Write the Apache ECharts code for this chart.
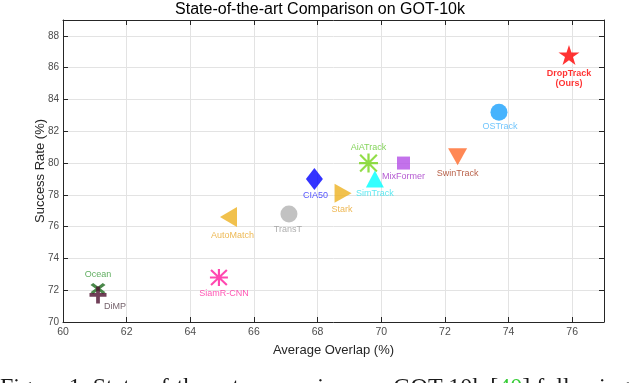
<!DOCTYPE html>
<html lang="en">
<head>
<meta charset="UTF-8">
<title>GOT-10k comparison</title>
<script src="https://cdn.jsdelivr.net/npm/echarts@6/dist/echarts.min.js"></script>
</head>
<body style="margin:0;background:#fff;">
<div id="main" style="width:640px;height:383px;"></div>
<script type="text/javascript">
// trackers and their (AO, SR) on GOT-10k
var trackers = ['DropTrack', 'OSTrack', 'SwinTrack', 'MixFormer', 'AiATrack', 'SimTrack', 'Stark',
    'CIA50', 'TransT', 'AutoMatch', 'SiamR-CNN', 'Ocean', 'DiMP'];
var avgOverlap = [75.9, 73.7, 72.4, 70.7, 69.6, 69.8, 68.8, 67.9, 67.1, 65.2, 64.9, 61.1, 61.1];
var successRate = [86.8, 83.2, 80.4, 80.0, 80.0, 79.0, 78.1, 79.0, 76.8, 76.6, 72.8, 72.1, 71.7];
var labelText = ['DropTrack\n(Ours)', 'OSTrack', 'SwinTrack', 'MixFormer', 'AiATrack', 'SimTrack', 'Stark',
    'CIA50', 'TransT', 'AutoMatch', 'SiamR-CNN', 'Ocean', 'DiMP'];
var xTicks = [60, 62, 64, 66, 68, 70, 72, 74, 76];
var yTicks = [70, 72, 74, 76, 78, 80, 82, 84, 86, 88];

// marker shapes
var STAR = 'path://M50,0 L61.8,35.5 L100,35.5 L69.1,57.5 L80.9,95 L50,72 L19.1,95 L30.9,57.5 L0,35.5 L38.2,35.5 Z';
var ASTER = 'path://M44,0 H56 V100 H44 Z M0,44 H100 V56 H0 Z M10,2 L98,90 L90,98 L2,10 Z M90,2 L98,10 L10,98 L2,90 Z';
var CROSS = 'path://M0,18 L18,0 L100,82 L82,100 Z M82,0 L100,18 L18,100 L0,82 Z';
var PLUS = 'path://M39,0 H61 V100 H39 Z M0,39 H100 V61 H0 Z';

var styles = [
    {symbol: STAR, size: [21, 20], rot: 0, color: '#ff0000', lc: '#ff0000', off: [0, 24], bold: true},
    {symbol: 'circle', size: 17, rot: 0, color: '#19a0fc', lc: '#4db6fb', off: [1, 14]},
    {symbol: 'triangle', size: [19, 17], rot: 180, color: '#ff6a2b', lc: '#a8391c', off: [0, 17]},
    {symbol: 'rect', size: 13, rot: 0, color: '#b44fe6', lc: '#a12fc6', off: [0, 13]},
    {symbol: ASTER, size: 19, rot: 0, color: '#77d51a', lc: '#66c933', off: [0, -16]},
    {symbol: 'triangle', size: [18, 17], rot: 0, color: '#00ffff', lc: '#38e4ee', off: [0, 15]},
    {symbol: 'triangle', size: [19, 17], rot: -90, color: '#edb120', lc: '#eaa62a', off: [-1, 16]},
    {symbol: 'diamond', size: [17, 22], rot: 0, color: '#0000ff', lc: '#2b2bff', off: [1, 17]},
    {symbol: 'circle', size: 17, rot: 0, color: '#b3b3b3', lc: '#9a9a9a', off: [-1, 16]},
    {symbol: 'triangle', size: [20, 17], rot: 90, color: '#edb120', lc: '#e9a82a', off: [4, 18]},
    {symbol: ASTER, size: [18, 17], rot: 0, color: '#ff1a9c', lc: '#ff2aa0', off: [5, 16]},
    {symbol: CROSS, size: [15, 11], rot: 0, color: '#1d6a1d', lc: '#3a9a3a', off: [0, -14]},
    {symbol: PLUS, size: 17, rot: 0, color: '#4c0f2e', lc: '#4f3744', off: [17, 12]}
];

var points = trackers.map(function (name, i) {
    var s = styles[i];
    return {
        name: name,
        value: [avgOverlap[i], successRate[i]],
        symbol: s.symbol,
        symbolSize: s.size,
        symbolRotate: s.rot,
        itemStyle: {color: s.color},
        label: {
            show: true,
            formatter: labelText[i],
            position: 'inside',
            offset: s.off,
            color: s.lc,
            fontSize: 9,
            lineHeight: 10,
            fontWeight: s.bold ? 'bold' : 'normal',
            align: 'center'
        }
    };
});

var evenOnly = function (v) { return v % 2 === 0 ? v : ''; };
var font = 'Liberation Sans';

var myChart = echarts.init(document.getElementById('main'));
var option = {
    animation: false,
    backgroundColor: '#fff',
    textStyle: {fontFamily: font},
    title: {
        text: 'State-of-the-art Comparison on GOT-10k',
        left: 'center',
        top: -3,
        textStyle: {fontSize: 16, fontWeight: 'normal', color: '#000', fontFamily: font}
    },
    grid: {left: 63, right: 36, top: 20, bottom: 61},
    xAxis: [{
        type: 'value', min: 60, max: 77, interval: 2,
        name: 'Average Overlap (%)', nameLocation: 'middle', nameGap: 22,
        nameTextStyle: {fontSize: 13, color: '#262626'},
        axisLine: {lineStyle: {color: '#262626'}},
        axisTick: {inside: true, length: 5, lineStyle: {color: '#262626'}},
        axisLabel: {fontSize: 10.5, color: '#4d4d4d', margin: 5, formatter: evenOnly},
        splitLine: {lineStyle: {color: '#e3e3e3'}}
    }, {
        type: 'value', min: 60, max: 77, interval: 2, position: 'top',
        axisLine: {lineStyle: {color: '#262626'}},
        axisTick: {inside: true, length: 5, lineStyle: {color: '#262626'}},
        axisLabel: {show: false},
        splitLine: {show: false}
    }],
    yAxis: [{
        type: 'value', min: 70, max: 89, interval: 2,
        name: 'Success Rate (%)', nameLocation: 'middle', nameGap: 16, nameMoveOverlap: false,
        nameTextStyle: {fontSize: 13, color: '#262626'},
        axisLine: {show: true, lineStyle: {color: '#262626'}},
        axisTick: {show: true, inside: true, length: 5, lineStyle: {color: '#262626'}},
        axisLabel: {fontSize: 10, color: '#4d4d4d', margin: 4, formatter: evenOnly},
        splitLine: {lineStyle: {color: '#e3e3e3'}}
    }, {
        type: 'value', min: 70, max: 89, interval: 2, position: 'right',
        axisLine: {show: true, lineStyle: {color: '#262626'}},
        axisTick: {show: true, inside: true, length: 5, lineStyle: {color: '#262626'}},
        axisLabel: {show: false},
        splitLine: {show: false}
    }],
    graphic: [{
        type: 'text',
        left: 0,
        top: 376,
        style: {
            text: '{t|Figure 1. State-of-the-art comparison on GOT-10k [}{g|40}{t|] following}',
            rich: {
                t: {fontFamily: 'Liberation Serif', fontSize: 24, fill: '#1a1a1a'},
                g: {fontFamily: 'Liberation Serif', fontSize: 24, fill: '#33cc33'}
            }
        }
    }],
    series: [{
        type: 'scatter',
        xAxisIndex: 0,
        yAxisIndex: 0,
        data: points
    }]
};
myChart.setOption(option);
</script>
</body>
</html>
